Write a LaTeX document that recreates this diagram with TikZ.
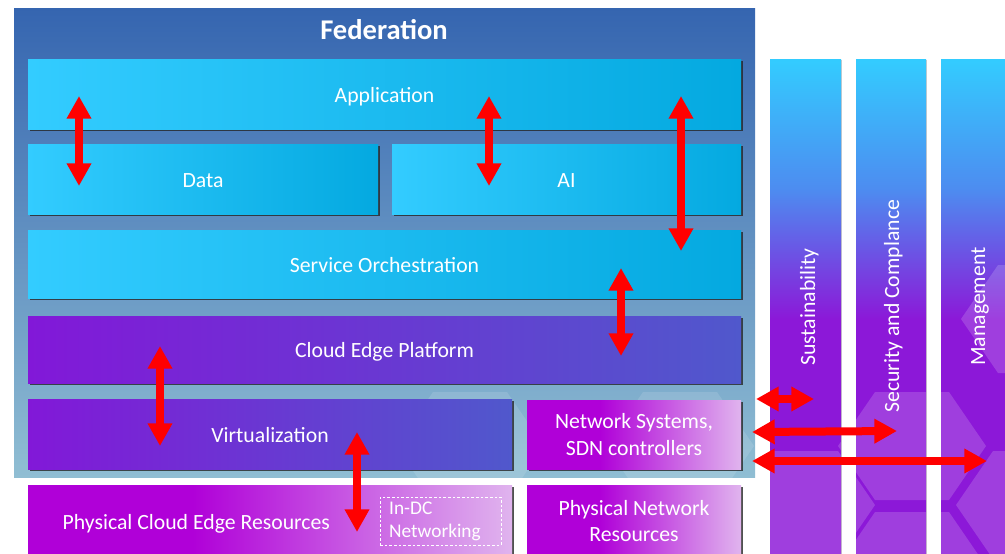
\documentclass[tikz,border=0pt]{standalone}
\usepackage{fontspec}
\setmainfont{Carlito}
\usetikzlibrary{arrows.meta,shadows}
\definecolor{cyanA}{HTML}{33CCFF}
\definecolor{cyanB}{HTML}{04A9E0}
\definecolor{purA}{HTML}{8218D8}
\definecolor{purB}{HTML}{5058CC}
\definecolor{magA}{HTML}{B000D8}
\definecolor{magB}{HTML}{E0B4EE}
\definecolor{colP}{HTML}{8C18D8}
\definecolor{colM}{HTML}{4D8CF0}
\definecolor{fedTop}{HTML}{3565B0}
\definecolor{fedBot}{HTML}{90BED3}
\definecolor{arrowRed}{HTML}{FF0000}
\pgfdeclarehorizontalshading{magfade}{100bp}{color(0bp)=(magA); color(25bp)=(magA); color(42bp)=(magA); color(75bp)=(magB); color(100bp)=(magB)}
\pgfdeclareverticalshading{colfade}{100bp}{color(0bp)=(colP); color(49bp)=(colP); color(62bp)=(colM); color(75bp)=(cyanA); color(100bp)=(cyanA)}
\newcommand\hexat[2]{({#1-74},#2) -- ({#1-37},{#2-54}) -- ({#1+37},{#2-54}) -- ({#1+74},#2) -- ({#1+37},{#2+54}) -- ({#1-37},{#2+54}) -- cycle}
\tikzset{
  base/.style={inner sep=0pt, text=white, font=\fontsize{16.3}{19.5}\selectfont, align=center},
  oneline/.style={text height=13pt, text depth=1pt},
  shad/.style={drop shadow={shadow xshift=1.5pt, shadow yshift=-1.5pt, opacity=.8, fill=black!85}},
  bluebox/.style={base, shad, left color=cyanA, right color=cyanB},
  purbox/.style={base, shad, left color=purA, right color=purB},
  magbox/.style={base, shad, shading=magfade},
  colbox/.style={inner sep=0pt, shading=colfade, drop shadow={shadow xshift=1pt, shadow yshift=-1pt, opacity=.5, fill=black!40}},
  coltext/.style={inner sep=0pt, text=white, font=\fontsize{16.3}{19.5}\selectfont, rotate=90, anchor=base west},
  redarrow/.style={draw=arrowRed, line width=6pt, {Triangle[length=17pt,width=17.5pt]}-{Triangle[length=17pt,width=17.5pt]}},
  hexfill/.style={fill=white, fill opacity=.17},
  fedhex/.style={fill=white, fill opacity=.12},
}
\begin{document}
\begin{tikzpicture}[x=0.75pt,y=-0.75pt]
\useasboundingbox (0,0) rectangle (1005,553);
\fill[white] (0,0) rectangle (1005,553);
% federation background
\node[inner sep=0pt, minimum width=555.75pt, minimum height=351.75pt, top color=fedTop, bottom color=fedBot] (fed) at (384.5,242.5) {};
\begin{scope}
  \clip (14,8) rectangle (755,477);
  \fill[fedhex] \hexat{470}{446} \hexat{680}{446};
\end{scope}
\node[text=white, font=\bfseries\fontsize{21.4}{24}\selectfont, inner sep=0pt] (fedtitle) at (384,30) {Federation};
% layer boxes
\node[bluebox, oneline, minimum width=534.75pt, minimum height=52.5pt] (app) at (384.5,94) {Application};
\node[bluebox, oneline, minimum width=262.5pt, minimum height=52.5pt] (data) at (203,179) {Data};
\node[bluebox, oneline, minimum width=261.75pt, minimum height=52.5pt] (ai) at (566.5,179) {AI};
\node[bluebox, oneline, minimum width=534.75pt, minimum height=51pt] (orch) at (384.5,264) {Service Orchestration};
\node[purbox, oneline, minimum width=534.75pt, minimum height=50.25pt] (cep) at (384.5,349.5) {Cloud Edge Platform};
\node[purbox, oneline, minimum width=363pt, minimum height=52.5pt] (virt) at (270,434) {Virtualization};
\node[magbox, minimum width=160.5pt, minimum height=51.75pt] (netsys) at (634,434.5) {Network Systems,\\[0.5pt]SDN controllers};
\node[magbox, oneline, minimum width=363pt, minimum height=54pt] (pcer) at (270,521) {\makebox[345pt][l]{\hspace*{17pt}Physical Cloud Edge Resources}};
\node[magbox, minimum width=160.5pt, minimum height=54pt] (pnr) at (634,521) {Physical Network\\[0.5pt]Resources};
\node[draw=white, line width=.6pt, dash pattern=on 2pt off 1.5pt, minimum width=90.75pt, minimum height=36pt, inner sep=0pt, text width=77pt, align=left, text=white, font=\fontsize{14.5}{17.3}\selectfont] (indc) at (440.5,521) {In-DC\\Networking};
% vertical columns
\node[colbox, minimum width=53.25pt, minimum height=375.75pt] (sus) at (805.5,309.5) {};
\node[colbox, minimum width=52.5pt, minimum height=375.75pt] (sec) at (891,309.5) {};
\node[colbox, minimum width=55.5pt, minimum height=375.75pt] (mgt) at (978,309.5) {};
\begin{scope}
  \clip (770,59) rectangle (841,560) (856,59) rectangle (926,560) (941,59) rectangle (1015,560);
  \fill[hexfill] \hexat{801}{505} \hexat{912}{446} \hexat{912}{566} \hexat{1035}{319} \hexat{1030}{505};
\end{scope}
\node[coltext] (sustxt) at (815,366) {Sustainability};
\node[coltext] (sectxt) at (899,413) {Security and Complance};
\node[coltext] (mgttxt) at (985,366) {Management};
% arrows
\coordinate (a1t) at (79,96);   \coordinate (a1b) at (79,186);
\coordinate (a2t) at (489,96);  \coordinate (a2b) at (489,186);
\coordinate (a3t) at (681,96);  \coordinate (a3b) at (681,251);
\coordinate (a4t) at (621,268); \coordinate (a4b) at (621,356);
\coordinate (a5t) at (160,346); \coordinate (a5b) at (160,446);
\coordinate (a6t) at (357,432); \coordinate (a6b) at (357,532);
\coordinate (h1l) at (756,399); \coordinate (h1r) at (814,399);
\coordinate (h2l) at (752,432); \coordinate (h2r) at (897,431);
\coordinate (h3l) at (752,461); \coordinate (h3r) at (987,461);
\draw[redarrow] (a1t) -- (a1b);
\draw[redarrow] (a2t) -- (a2b);
\draw[redarrow] (a3t) -- (a3b);
\draw[redarrow] (a4t) -- (a4b);
\draw[redarrow] (a5t) -- (a5b);
\draw[redarrow] (a6t) -- (a6b);
\draw[redarrow] (h1l) -- (h1r);
\draw[redarrow] (h2l) -- (h2r);
\draw[redarrow] (h3l) -- (h3r);
\end{tikzpicture}
\end{document}
